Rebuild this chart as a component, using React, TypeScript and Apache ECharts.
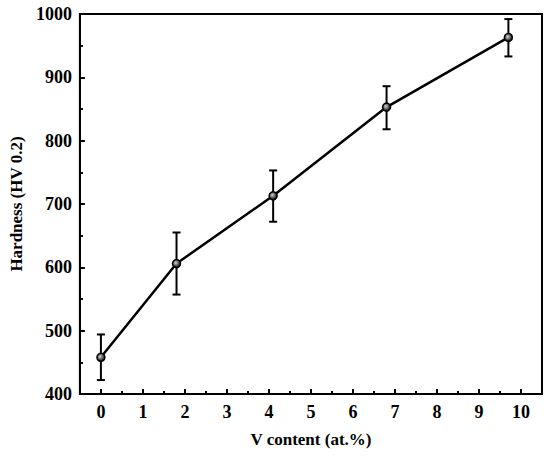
import React, { useEffect, useRef } from "react";
import * as echarts from "echarts";

const xValues = [0, 1.8, 4.1, 6.8, 9.7];
const hardness = [458, 606, 713, 853, 963];
const errLow = [422, 557, 672, 818, 933];
const errHigh = [494, 655, 753, 886, 992];
const xMajorTicks = [0, 1, 2, 3, 4, 5, 6, 7, 8, 9, 10];
const xMinorTicks = [0.5, 1.5, 2.5, 3.5, 4.5, 5.5, 6.5, 7.5, 8.5, 9.5];

const FONT = "Liberation Serif";

export default function App() {
  const ref = useRef<HTMLDivElement>(null);
  useEffect(() => {
    document.body.style.margin = "0";
    const chart = echarts.init(ref.current!, undefined, { renderer: "svg" });
    const lineData = xValues.map((x, i) => [x, hardness[i]]);
    const errData = xValues.map((x, i) => [x, errLow[i], errHigh[i]]);
    const labelStyle = {
      color: "#000",
      fontFamily: FONT,
      fontWeight: "bold" as const,
      fontSize: 18,
    };
    chart.setOption({
      animation: false,
      textStyle: { fontFamily: FONT },
      grid: {
        left: 71,
        right: 8,
        top: 14,
        bottom: 63,
        show: true,
        borderColor: "#000",
        borderWidth: 2,
        backgroundColor: "transparent",
      },
      xAxis: [
        {
          type: "value",
          min: -0.5,
          max: 10.5,
          position: "bottom",
          name: "V content (at.%)",
          nameLocation: "middle",
          nameGap: 37,
          nameTextStyle: { ...labelStyle, fontSize: 17 },
          axisLine: { show: true, onZero: false, lineStyle: { color: "#000", width: 2 } },
          axisTick: {
            show: true,
            inside: true,
            length: 5,
            customValues: xMajorTicks,
            lineStyle: { color: "#000", width: 2 },
          },
          axisLabel: {
            ...labelStyle,
            margin: 9,
            customValues: xMajorTicks,
            formatter: (v: number) => String(v),
          },
          splitLine: { show: false },
        },
        {
          type: "value",
          min: -0.5,
          max: 10.5,
          position: "bottom",
          axisLine: { show: false, onZero: false },
          axisTick: {
            show: true,
            inside: true,
            length: 3,
            customValues: xMinorTicks,
            lineStyle: { color: "#000", width: 2 },
          },
          axisLabel: { show: false },
          splitLine: { show: false },
        },
      ],
      yAxis: {
        type: "value",
        min: 400,
        max: 1000,
        interval: 100,
        name: "Hardness (HV 0.2)",
        nameLocation: "middle",
        nameGap: 54,
        nameTextStyle: { ...labelStyle, fontSize: 17 },
        axisLine: { show: true, onZero: false, lineStyle: { color: "#000", width: 2 } },
        axisTick: {
          show: true,
          inside: true,
          length: 5,
          lineStyle: { color: "#000", width: 2 },
        },
        minorTick: {
          show: true,
          splitNumber: 2,
          length: 3,
          lineStyle: { color: "#000", width: 2 },
        },
        axisLabel: { ...labelStyle, margin: 8, formatter: (v: number) => String(v) },
        splitLine: { show: false },
        minorSplitLine: { show: false },
      },
      series: [
        {
          type: "custom",
          xAxisIndex: 0,
          data: errData,
          z: 2,
          renderItem: (params: any, api: any) => {
            const x = api.value(0);
            const lo = api.coord([x, api.value(1)]);
            const hi = api.coord([x, api.value(2)]);
            const w = 4;
            const style = { stroke: "#000", lineWidth: 2 };
            return {
              type: "group",
              children: [
                { type: "line", shape: { x1: lo[0], y1: lo[1], x2: hi[0], y2: hi[1] }, style },
                { type: "line", shape: { x1: hi[0] - w, y1: hi[1], x2: hi[0] + w, y2: hi[1] }, style },
                { type: "line", shape: { x1: lo[0] - w, y1: lo[1], x2: lo[0] + w, y2: lo[1] }, style },
              ],
            };
          },
        },
        {
          type: "line",
          xAxisIndex: 0,
          data: lineData,
          z: 3,
          symbol: "circle",
          symbolSize: 8,
          lineStyle: { color: "#000", width: 2.5 },
          itemStyle: {
            color: new echarts.graphic.RadialGradient(0.4, 0.4, 0.6, [
              { offset: 0, color: "#cfcfcf" },
              { offset: 1, color: "#111" },
            ]),
            borderColor: "#000",
            borderWidth: 1.5,
          },
        },
      ],
    });
    return () => chart.dispose();
  }, []);
  return (
    <div
      ref={ref}
      style={{ position: "absolute", left: 0, top: 0, width: 550, height: 457 }}
    />
  );
}
